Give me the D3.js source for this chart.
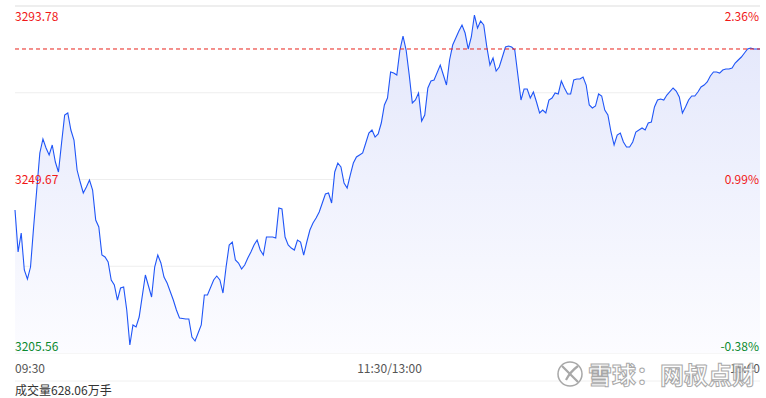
<!DOCTYPE html>
<html>
<head>
<meta charset="utf-8">
<script src="https://cdn.jsdelivr.net/npm/d3@7"></script>
<style>
  body { margin: 0; background: #fff; }
  text { font-family: "Microsoft YaHei", "Noto Sans CJK SC", sans-serif; }
</style>
</head>
<body>
<div id="chart"></div>
<script>
// minute index since 09:30 (0..240, 11:30 and 13:00 share index 120)
const minutes = [0,1,2,3,4,5,6,7,8,9,10,11,12,13,14,15,16,17,18,19,20,21,22,23,24,25,26,27,28,29,
  30,31,32,33,34,35,36,37,38,39,40,42,44,45,46,47,48,49,51,52,53,55,56,57,58,59,60,61,62,64,
  65,66,67,68,69,70,71,72,73,74,75,76,77,78,79,80,81,82,83,84,85,86,87,88,89,90,91,92,93,94,
  95,96,97,98,99,100,101,102,103,104,105,106,107,108,109,110,111,112,113,114,115,116,117,118,119,120,
  121,122,123,124,125,126,127,128,129,130,131,132,133,134,135,137,138,139,140,141,142,143,144,145,
  146,147,148,149,150,151,152,153,154,155,156,157,158,159,160,161,162,163,164,165,166,167,168,169,
  170,171,172,173,174,175,176,177,178,179,180,181,182,183,184,185,186,187,188,189,190,191,192,193,
  194,195,196,197,198,199,200,202,203,204,205,206,207,208,209,210,212,213,214,215,216,217,218,219,
  220,221,222,223,224,225,226,227,228,229,230,231,232,233,234,235,236,237,238,239,240];

const prices = [3241.91,3231.24,3236.07,3226.66,3224.37,3227.42,3237.59,3247.00,3256.41,3259.97,
  3257.68,3255.90,3258.44,3254.12,3251.58,3258.95,3266.07,3266.58,3262.25,3259.71,
  3252.08,3249.03,3246.24,3247.76,3249.54,3247.00,3239.37,3237.59,3230.47,3229.97,
  3228.69,3224.12,3222.85,3219.03,3222.08,3222.34,3216.49,3207.59,3212.68,3212.17,
  3214.71,3225.39,3219.80,3227.42,3230.47,3228.44,3224.88,3223.35,3219.03,3216.49,
  3214.46,3214.20,3214.20,3209.62,3208.61,3210.64,3212.68,3220.30,3220.30,3224.12,
  3225.13,3224.12,3220.81,3227.42,3233.02,3233.78,3229.20,3228.44,3226.92,3227.93,
  3229.71,3231.24,3233.02,3234.29,3231.74,3230.47,3235.05,3235.05,3235.05,3234.80,
  3242.42,3242.17,3235.05,3233.02,3232.25,3231.74,3234.29,3233.78,3230.47,3233.78,
  3236.83,3238.61,3239.88,3241.40,3243.69,3245.98,3246.24,3243.69,3251.58,3253.86,
  3252.85,3248.78,3247.51,3250.81,3253.86,3255.39,3255.90,3256.41,3258.95,3261.49,
  3262.25,3260.47,3261.24,3264.03,3268.61,3270.39,
  3277.00,3276.74,3276.24,3282.59,3286.15,3282.59,3276.24,3269.12,3269.88,3271.66,
  3264.54,3266.07,3272.93,3274.71,3274.97,3278.78,3276.24,3273.69,3280.05,3283.86,
  3285.64,3287.42,3288.95,3286.91,3282.85,3285.90,3291.49,3288.19,3289.97,3288.95,
  3283.35,3278.78,3280.56,3277.25,3278.27,3280.81,3283.35,3283.61,3283.35,3282.59,
  3276.24,3269.88,3272.68,3272.68,3270.39,3271.91,3269.37,3266.58,3267.34,3266.58,
  3269.88,3270.39,3271.66,3271.41,3274.71,3272.93,3271.41,3271.41,3274.97,3275.22,
  3275.22,3275.73,3273.69,3268.61,3267.85,3268.35,3271.41,3270.90,3267.34,3266.07,
  3261.75,3258.44,3260.98,3261.49,3259.20,3257.93,3257.93,3259.20,3261.75,3262.76,
  3262.25,3264.03,3264.29,3268.10,3269.88,3270.13,3269.88,3271.15,3272.93,3272.17,
  3270.64,3266.58,3268.10,3269.88,3270.90,3270.90,3271.91,3273.19,3273.69,3274.46,
  3275.98,3277.00,3277.00,3276.74,3277.51,3277.76,3277.76,3278.02,3279.29,3280.05,
  3280.81,3281.83,3282.85,3283.10,3282.85,3282.85,3282.85];

const priceTicks = [3293.78, 3249.67, 3205.56];
const pctTicks = ["2.36%", "0.99%", "-0.38%"];
const timeLabels = ["09:30", "11:30/13:00", "15:00"];
const timeTicks = [0, 120, 240];
const lastPrice = 3282.85;
const volumeText = "成交量628.06万手";

const W = 766, H = 398;
const PLOT = {left: 15, right: 760, top: 6, bottom: 353};

const svg = d3.select("#chart").append("svg")
  .attr("width", W)
  .attr("height", H);

const x = d3.scaleLinear().domain([0, 240]).range([PLOT.left, PLOT.right]);
const y = d3.scaleLinear().domain([3205.56, 3293.78]).range([PLOT.bottom, PLOT.top]);

const data = minutes.map((m, i) => ({m: m, p: prices[i]}));

// gradient under the line
const grad = svg.append("defs").append("linearGradient")
  .attr("id", "fillGrad")
  .attr("gradientUnits", "userSpaceOnUse")
  .attr("x1", 0).attr("y1", PLOT.top).attr("x2", 0).attr("y2", PLOT.bottom);
grad.append("stop").attr("offset", "0%").attr("stop-color", "#e2e6fb");
grad.append("stop").attr("offset", "100%").attr("stop-color", "#fcfcff");

// horizontal grid
const gridYs = d3.range(5).map(i => y(3205.56 + i * (3293.78 - 3205.56) / 4));
svg.selectAll(".grid")
  .data(gridYs)
  .enter()
  .append("line")
    .attr("x1", PLOT.left).attr("x2", PLOT.right)
    .attr("y1", d => d).attr("y2", d => d)
    .attr("stroke", "#eeeeee")
    .attr("stroke-width", (d, i) => i == 4 ? 2 : 1);

// line under the time labels
svg.append("line")
  .attr("x1", PLOT.left).attr("x2", PLOT.right)
  .attr("y1", 381).attr("y2", 381)
  .attr("stroke", "#f0f0f0");

const area = d3.area()
  .x(d => x(d.m))
  .y0(PLOT.bottom)
  .y1(d => y(d.p));

svg.append("path")
  .datum(data)
  .attr("d", area)
  .attr("fill", "url(#fillGrad)");

const line = d3.line()
  .x(d => x(d.m))
  .y(d => y(d.p));

svg.append("path")
  .datum(data)
  .attr("d", line)
  .attr("fill", "none")
  .attr("stroke", "#1f55f7")
  .attr("stroke-width", 1.1);

// last price dashed line
svg.append("line")
  .attr("x1", PLOT.left).attr("x2", PLOT.right)
  .attr("y1", y(lastPrice)).attr("y2", y(lastPrice))
  .attr("stroke", "#e8221b")
  .attr("stroke-dasharray", "4,3");

// price labels on the left, percent labels on the right
const labelColor = (i) => i == 2 ? "#0b8a2e" : "#f01818";
const labelBase = (v, i) => i == 0 ? y(v) + 15 : (i == 1 ? y(v) + 4.5 : y(v) - 2);

svg.selectAll(".plabel")
  .data(priceTicks)
  .enter()
  .append("text")
    .attr("x", PLOT.left)
    .attr("y", (d, i) => labelBase(d, i))
    .attr("font-size", 12)
    .attr("fill", (d, i) => labelColor(i))
    .text(d => d.toFixed(2));

svg.selectAll(".pctlabel")
  .data(pctTicks)
  .enter()
  .append("text")
    .attr("x", PLOT.right - 1)
    .attr("y", (d, i) => labelBase(priceTicks[i], i))
    .attr("text-anchor", "end")
    .attr("font-size", 12)
    .attr("fill", (d, i) => labelColor(i))
    .text(d => d);

// time labels
svg.selectAll(".tlabel")
  .data(timeLabels)
  .enter()
  .append("text")
    .attr("x", (d, i) => x(timeTicks[i]) + (i == 1 ? 2 : 0))
    .attr("y", 373)
    .attr("text-anchor", (d, i) => ["start", "middle", "end"][i])
    .attr("font-size", 12)
    .attr("fill", "#555")
    .text(d => d);

svg.append("text")
  .attr("x", PLOT.left)
  .attr("y", 395)
  .attr("font-size", 12)
  .attr("fill", "#333")
  .text(volumeText);

// watermark
const wm = svg.append("g").attr("opacity", 0.85);
wm.append("circle")
  .attr("cx", 570).attr("cy", 374).attr("r", 12)
  .attr("fill", "#fff").attr("stroke", "#999").attr("stroke-width", 1.5);
wm.append("path")
  .attr("d", "M562,366 Q570,374 578,382 M578,366 Q570,372 566,380")
  .attr("fill", "none").attr("stroke", "#999").attr("stroke-width", 2.2);
wm.append("text")
  .attr("x", 588).attr("y", 384)
  .attr("font-size", 24)
  .attr("font-weight", "bold")
  .attr("fill", "#fff")
  .attr("stroke", "#9a9a9a")
  .attr("stroke-width", 1)
  .text("雪球：网叔点财");
</script>
</body>
</html>
